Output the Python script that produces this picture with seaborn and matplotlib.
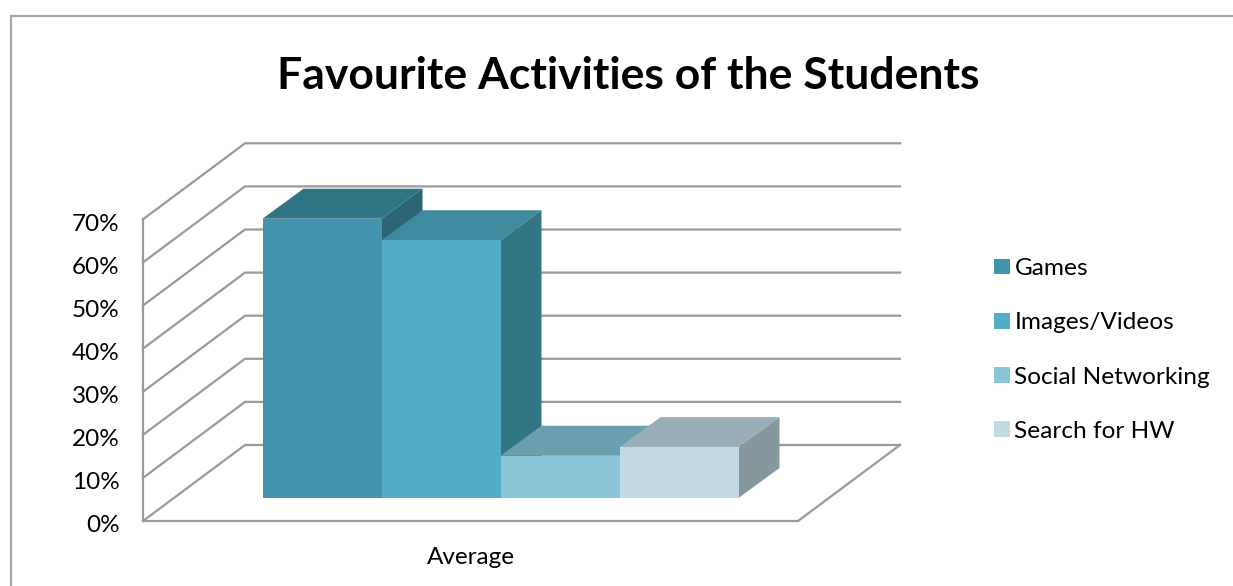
import matplotlib
matplotlib.use("Agg")
import matplotlib.pyplot as plt
from matplotlib.patches import Polygon, Rectangle
from matplotlib.transforms import ScaledTranslation
import pandas as pd
import seaborn as sns

# ---- data ----
period = ["Average"]
activities = ["Games", "Images/Videos", "Social Networking", "Search for HW"]
shares = [0.648, 0.598, 0.098, 0.118]
y_ticks = [0.0, 0.1, 0.2, 0.3, 0.4, 0.5, 0.6, 0.7]
y_labels = ["0%", "10%", "20%", "30%", "40%", "50%", "60%", "70%"]
title = "Favourite Activities of the Students"

# ---- style ----
front = ["#4493ad", "#54adc7", "#8bc5d8", "#c2d9e6"]
top = ["#307585", "#3e8a9f", "#6a9fae", "#99aeb9"]
side = ["#2c6576", "#327686", "#5f8f9c", "#86989d"]
grid = "#9a9a9a"
W, H, DPI = 1233, 586, 100

sns.set_theme(style="white")
plt.rcParams["font.family"] = ["Lato", "DejaVu Sans"]

fig = plt.figure(figsize=(W / DPI, H / DPI), dpi=DPI, facecolor="white")
# The axes is the plane of the bars' front faces.
L, R, Y0, PX_PER_UNIT = 173.0, 828.0, 498.0, 431.0
BOTTOM = (H - Y0) / H
ax = fig.add_axes([L / W, BOTTOM, (R - L) / W, 0.7 * PX_PER_UNIT / H])
ax.patch.set_alpha(0)

df = pd.DataFrame({
    "Period": period * len(activities),
    "Activity": activities,
    "Share": shares,
})
sns.barplot(data=df, x="Period", y="Share", hue="Activity", hue_order=activities,
            palette=front, width=476 / 655, gap=0, saturation=1, ax=ax, legend=True)
ax.set_xlim(-0.5, 0.5)
ax.set_ylim(0, 0.7)
ax.set_xlabel("")
ax.set_ylabel("")
sns.despine(ax=ax, left=True, bottom=True, top=True, right=True)

x_per_px = 1.0 / (R - L)
y_per_px = 1.0 / PX_PER_UNIT


def shifted(dx_px, dy_px):
    """Data coordinate shift for a depth offset in pixels (dy up)."""
    return dx_px * x_per_px, dy_px * y_per_px


# ---- walls and floor ----
FRONT_DX, FRONT_DY = -30.0, -23.0
BACK_DX, BACK_DY = 72.0, 53.0
fx, fy = shifted(FRONT_DX, FRONT_DY)
bx, by = shifted(BACK_DX, BACK_DY)
xl, xr = ax.get_xlim()
wall = dict(color=grid, lw=1.6, clip_on=False, zorder=1, solid_capstyle="projecting",
            solid_joinstyle="miter")
for v in y_ticks:
    ax.plot([xl + fx, xl + bx, xr + bx], [v + fy, v + by, v + by], **wall)
ax.plot([xl + fx, xl + fx], [y_ticks[0] + fy, y_ticks[-1] + fy], **wall)
ax.plot([xl + fx, xr + fx, xr + bx], [fy, fy, by], **wall)

# ---- 3D faces built from the bars seaborn drew ----
BAR_DX, BAR_DY = shifted(41.0, 30.0)
bars = [p for p in ax.patches if p.get_height() > 0]
for i, bar in enumerate(bars):
    x0, w, h = bar.get_x(), bar.get_width(), bar.get_height()
    x1 = x0 + w
    z = 3 + i
    bar.set_zorder(z + 0.2)
    bar.set_edgecolor("none")
    ax.add_patch(Polygon([(x0, h), (x1, h), (x1 + BAR_DX, h + BAR_DY), (x0 + BAR_DX, h + BAR_DY)],
                         closed=True, fc=top[i], ec="none", clip_on=False, zorder=z))
    ax.add_patch(Polygon([(x1, 0), (x1, h), (x1 + BAR_DX, h + BAR_DY), (x1 + BAR_DX, BAR_DY)],
                         closed=True, fc=side[i], ec="none", clip_on=False, zorder=z + 0.1))

# ---- tick labels sit on the front wall plane ----
ax.set_yticks(y_ticks, y_labels)
ax.tick_params(axis="y", length=0, pad=17, labelsize=17.5, labelcolor="black")
ax.tick_params(axis="x", length=0, pad=19, labelsize=17.5, labelcolor="black")
offset_y = ScaledTranslation(FRONT_DX / DPI, (FRONT_DY - 3) / DPI, fig.dpi_scale_trans)
offset_x = ScaledTranslation(FRONT_DX / DPI, FRONT_DY / DPI, fig.dpi_scale_trans)
for lab in ax.get_yticklabels():
    lab.set_transform(lab.get_transform() + offset_y)
for lab in ax.get_xticklabels():
    lab.set_transform(lab.get_transform() + offset_x)

# ---- legend ----
handles, labels = ax.get_legend_handles_labels()
ax.get_legend().remove()
fig.legend(handles, labels, loc="center left",
           bbox_to_anchor=(989.5 / W, 1 - 350 / H), frameon=False, fontsize=17.6,
           labelcolor="black", handlelength=0.62, handleheight=0.62, handletextpad=0.2,
           labelspacing=1.36, borderpad=0.2, borderaxespad=0)
for h_ in fig.legends[0].legend_handles:
    h_.set_edgecolor("none")

# ---- title and frame ----
fig.text(628.5 / W, 1 - 76 / H, title, ha="center", va="center",
         fontsize=32, fontweight="bold", color="black")
frame_top = (H - 15.5) / H
fig.add_artist(Rectangle((11 / W, -0.1), 1.2, frame_top + 0.1,
                         transform=fig.transFigure, fill=False, ec="#a6a6a6", lw=1.6))

fig.savefig("out.png", dpi=DPI)
